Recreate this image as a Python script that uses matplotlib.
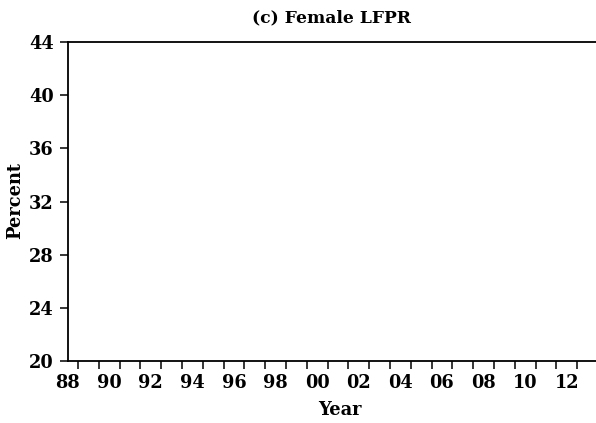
import matplotlib
matplotlib.use("Agg")
import matplotlib.pyplot as plt

# Data (the reference panel shows no plotted series)
years = []
female_lfpr = []

x_ticks = [y + 0.5 for y in range(1988, 2013)]
x_labeled = list(range(1988, 2013, 2))
x_labels = [f"{y % 100:02d}" for y in x_labeled]
y_ticks = [20, 24, 28, 32, 36, 40, 44]

plt.rcParams['font.family'] = ['DejaVu Serif']
plt.rcParams['font.weight'] = 'bold'

fig = plt.figure(figsize=(5.96, 4.23), dpi=100)
ax = fig.add_axes([67.5/596, 1-361/423, 1-67.5/596, (361-42)/423])

ax.plot(years, female_lfpr, color='black', lw=1.2)

ax.set_xlim(1988, 1988 + (596 - 67.5) / 20.8)
ax.set_ylim(20, 44)

# ticks between years, labels at even years (no tick marks at labels)
ax.set_xticks(x_ticks, minor=True)
ax.set_xticks(x_labeled)
ax.set_xticklabels(x_labels)
ax.set_yticks(y_ticks)

for s in ['left', 'top', 'bottom']:
    ax.spines[s].set_linewidth(1.3)
ax.spines['right'].set_visible(False)

ax.tick_params(axis='y', which='major', direction='out', length=6, width=1.1,
               labelsize=12.8, pad=4)
ax.tick_params(axis='x', which='major', length=0, labelsize=12.8, pad=9)
ax.tick_params(axis='x', which='minor', direction='out', length=6, width=1.1)

for lab in ax.get_xticklabels() + ax.get_yticklabels():
    lab.set_fontweight('bold')

fig.text(332/596, 1-18/423, "(c) Female LFPR", ha='center', va='center',
         fontsize=12.3, fontweight='bold')
fig.text(340/596, 1-410/423, "Year", ha='center', va='center',
         fontsize=12.8, fontweight='bold')
fig.text(15/596, 1-200/423, "Percent", ha='center', va='center',
         fontsize=12.8, fontweight='bold', rotation=90)

fig.savefig("out.png", dpi=100)
